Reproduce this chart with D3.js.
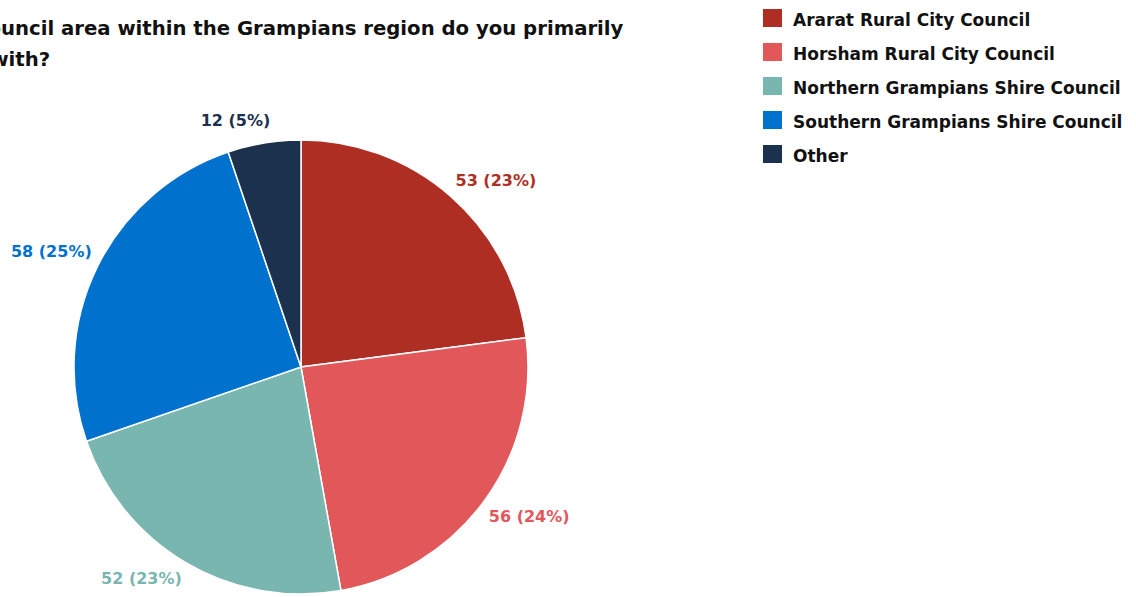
<!DOCTYPE html>
<html><head><meta charset="utf-8">
<script src="https://cdn.jsdelivr.net/npm/d3@7"></script>
<style>
html,body{margin:0;padding:0;background:#fff;overflow:hidden}
text{font-family:"DejaVu Sans",sans-serif;font-weight:700}
</style></head>
<body><svg id="c" width="1136" height="597"></svg>
<script>
const categories = ["Ararat Rural City Council","Horsham Rural City Council","Northern Grampians Shire Council","Southern Grampians Shire Council","Other"];
const values = [53,56,52,58,12];
const percents = [23,24,23,25,5];
const colors = ["#AF2E24","#E2575A","#79B6B0","#0072CE","#1C314E"];
const titleLines = ["Which council area within the Grampians region do you primarily","identify with?"];

// layout-only nudges for the outside labels (pixels, relative to the radial label point)
const labelNudge = [[18,14.5],[12,-9],[-24,-20],[-9,2.5],[-22,17.5]];

const svg = d3.select("#c");
const cx = 301, cy = 367, R = 227, LR = 268;

const pie = d3.pie().sort(null).value(d => d)(values);
const arc = d3.arc().innerRadius(0).outerRadius(R);
const g = svg.append("g").attr("transform", `translate(${cx},${cy})`);
g.selectAll("path").data(pie).join("path")
  .attr("d", arc).attr("fill", (d,i) => colors[i])
  .attr("stroke", "#fff").attr("stroke-width", 1.5);

const lab = d3.arc().innerRadius(LR).outerRadius(LR);
g.selectAll("text.l").data(pie).join("text").attr("class","l")
  .attr("transform", (d,i) => {
    const c = lab.centroid(d);
    return `translate(${c[0]+labelNudge[i][0]},${c[1]+labelNudge[i][1]})`;
  })
  .attr("text-anchor","middle").attr("dy","0.36em")
  .attr("font-size", 16).attr("fill", (d,i) => colors[i])
  .text((d,i) => `${values[i]} (${percents[i]}%)`);

// title: sized so the visible part ("uncil ... primarily") spans like the reference
const t1 = svg.append("text").attr("x", 0).attr("y", 35)
  .attr("font-size", 20).attr("fill","#111").text(titleLines[0]);
const n1 = t1.node();
const cut = titleLines[0].indexOf("uncil");
const off = n1.getSubStringLength(0, cut);
const full = n1.getComputedTextLength();
const fs = 20 * 623 / (full - off);
t1.attr("font-size", fs);
const off2 = n1.getSubStringLength(0, cut);
const x0 = 1 - off2;
t1.attr("x", x0);
svg.append("text").attr("x", x0 - 3).attr("y", 66)
  .attr("font-size", fs).attr("fill","#111").text(titleLines[1]);

// legend
const lg = svg.append("g").attr("transform","translate(763,9)");
const rows = lg.selectAll("g").data(categories).join("g")
  .attr("transform", (d,i) => `translate(0,${i*34})`);
rows.append("rect").attr("width",19).attr("height",18).attr("fill",(d,i)=>colors[i]);
rows.append("text").attr("x",30).attr("y",16.5)
  .attr("font-size",17).attr("fill","#111").text(d => d);
</script></body></html>
